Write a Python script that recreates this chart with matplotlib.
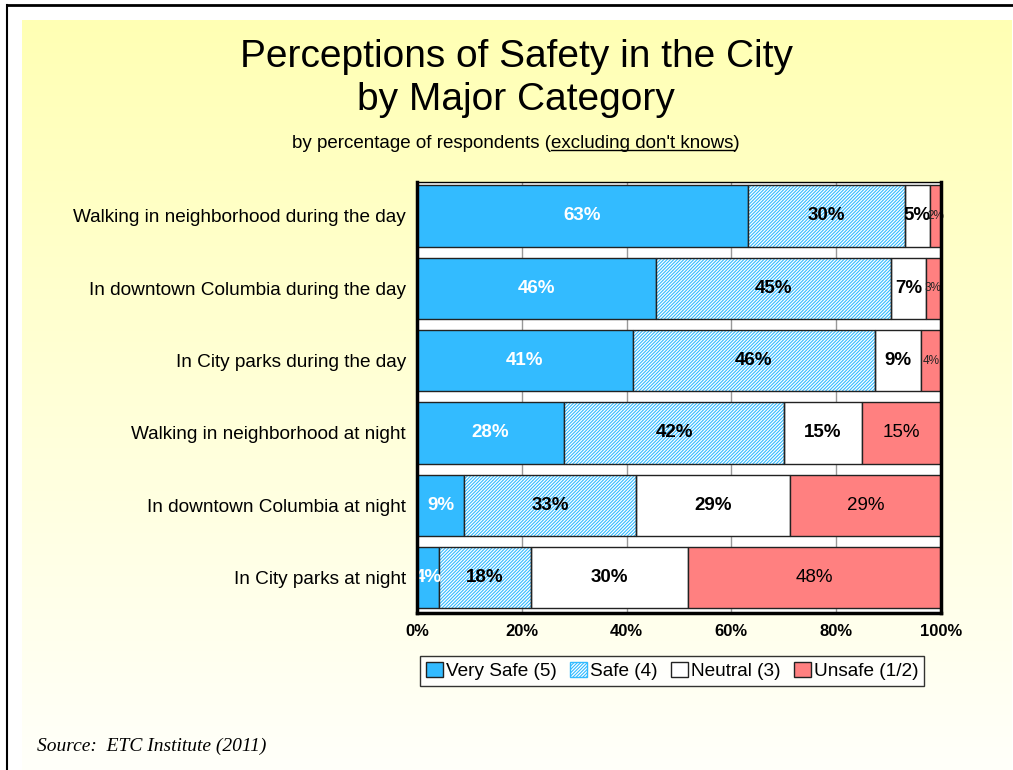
import numpy as np
import matplotlib
matplotlib.use("Agg")
import matplotlib.pyplot as plt
from matplotlib.lines import Line2D
from matplotlib.patches import Patch

plt.rcParams['font.family'] = ['Liberation Sans', 'DejaVu Sans']
plt.rcParams['hatch.linewidth'] = 0.8

# ---- data ----
categories = [
    "Walking in neighborhood during the day",
    "In downtown Columbia during the day",
    "In City parks during the day",
    "Walking in neighborhood at night",
    "In downtown Columbia at night",
    "In City parks at night",
]
very_safe = [63.2, 45.6, 41.2, 28.1, 9.0, 4.2]
safe = [29.9, 44.9, 46.2, 41.9, 32.8, 17.6]
neutral = [4.8, 6.6, 8.8, 14.9, 29.4, 29.9]
unsafe = [2.1, 2.9, 3.8, 15.1, 28.8, 48.3]
vs_labels = ["63%", "46%", "41%", "28%", "9%", "4%"]
safe_labels = ["30%", "45%", "46%", "42%", "33%", "18%"]
neutral_labels = ["5%", "7%", "9%", "15%", "29%", "30%"]
unsafe_labels = ["2%", "3%", "4%", "15%", "29%", "48%"]
series_names = ["Very Safe (5)", "Safe (4)", "Neutral (3)", "Unsafe (1/2)"]
xticks = [0, 20, 40, 60, 80, 100]
xtick_labels = ["0%", "20%", "40%", "60%", "80%", "100%"]

C_VS = "#33BBFF"
C_UN = "#FF8080"
EDGE = "#222222"
HATCH = "/" * 10

W, H = 1013, 770
fig = plt.figure(figsize=(W / 100, H / 100), dpi=100)
fig.patch.set_facecolor("white")

# gradient background
bg = fig.add_axes([22 / W, 0, (1011 - 22) / W, (H - 20) / H], zorder=-10)
grad = np.linspace(0, 1, 256)[:, None]
top = np.array([255, 255, 180]) / 255
bot = np.array([255, 255, 250]) / 255
img = top[None, None, :] * (1 - grad[:, :, None]) + bot[None, None, :] * grad[:, :, None]
bg.imshow(img, aspect="auto", extent=[0, 1, 0, 1])
bg.set_axis_off()

# page border lines
fig.add_artist(Line2D([7 / W, 1], [1 - 5 / H, 1 - 5 / H], color="black", lw=2, transform=fig.transFigure))
fig.add_artist(Line2D([7 / W, 7 / W], [0, 1 - 5 / H], color="black", lw=1.5, transform=fig.transFigure))

ax = fig.add_axes([417 / W, 1 - 613 / H, (941 - 417) / W, (613 - 182) / H])
ax.set_facecolor("white")
y = np.arange(len(categories))
h = 0.85

vs = np.array(very_safe)
sf = np.array(safe)
nt = np.array(neutral)
un = np.array(unsafe)

ax.barh(y, vs, height=h, color=C_VS, edgecolor=EDGE, lw=1, zorder=3)
ax.barh(y, sf, left=vs, height=h, color="white", edgecolor=C_VS, hatch=HATCH, lw=0, zorder=3)
ax.barh(y, sf, left=vs, height=h, color="none", edgecolor=EDGE, lw=1, zorder=4)
ax.barh(y, nt, left=vs + sf, height=h, color="white", edgecolor=EDGE, lw=1, zorder=3)
ax.barh(y, un, left=vs + sf + nt, height=h, color=C_UN, edgecolor=EDGE, lw=1, zorder=3)

for i in range(len(categories)):
    ax.text(vs[i] / 2, y[i], vs_labels[i], ha="center", va="center", color="white",
            fontsize=13.5, fontweight="bold", zorder=6, clip_on=False)
    ax.text(vs[i] + sf[i] / 2, y[i], safe_labels[i], ha="center", va="center", color="black",
            fontsize=13.5, fontweight="bold", zorder=6)
    ax.text(vs[i] + sf[i] + nt[i] / 2, y[i], neutral_labels[i], ha="center", va="center",
            color="black", fontsize=13.5, fontweight="bold", zorder=6)
    small = un[i] < 6
    ax.text(vs[i] + sf[i] + nt[i] + un[i] / 2, y[i], unsafe_labels[i], ha="center", va="center",
            color="#222222" if small else "black", fontsize=8.5 if small else 13.5, zorder=6, clip_on=False)

ax.set_xlim(0, 100)
ax.set_ylim(5.49, -0.47)
ax.set_xticks(xticks)
ax.set_xticklabels(xtick_labels, fontweight="bold", fontsize=12)
ax.set_yticks(y)
ax.set_yticklabels(categories, fontsize=13.7)
ax.tick_params(axis="y", length=0, pad=8)
ax.tick_params(axis="x", length=0, pad=8)
ax.grid(axis="x", color="#999999", lw=1, zorder=0)
for s in ["left", "right", "bottom"]:
    ax.spines[s].set_linewidth(2.5)
    ax.spines[s].set_color("black")
ax.spines["top"].set_linewidth(1)
for s in ax.spines.values():
    s.set_zorder(7)

# legend
handles = [
    Patch(facecolor=C_VS, edgecolor=EDGE),
    Patch(facecolor="white", edgecolor=C_VS, hatch=HATCH, lw=1),
    Patch(facecolor="white", edgecolor=EDGE),
    Patch(facecolor=C_UN, edgecolor=EDGE),
]
leg = fig.legend(handles, series_names, loc="center", bbox_to_anchor=(672 / W, 1 - 671 / H),
                 ncol=4, fontsize=13.7, frameon=True, fancybox=False, edgecolor="black",
                 handlelength=0.9, handleheight=0.8, handletextpad=0.15, columnspacing=0.7,
                 borderpad=0.3, borderaxespad=0)
leg.get_frame().set_linewidth(1)
leg.get_frame().set_facecolor("white")

# titles
cx = 516 / W
fig.text(cx, 1 - 57 / H, "Perceptions of Safety in the City", ha="center", va="center", fontsize=28)
fig.text(cx, 1 - 100 / H, "by Major Category", ha="center", va="center", fontsize=28)
sub = fig.text(cx, 1 - 143 / H, "by percentage of respondents (excluding don't knows)",
               ha="center", va="center", fontsize=13.5)

# underline for part of subtitle
fig.canvas.draw()
r = fig.canvas.get_renderer()
bb = sub.get_window_extent(r)
pre = fig.text(0, 0, "by percentage of respondents (", fontsize=13.5)
part = fig.text(0, 0, "excluding don't knows", fontsize=13.5)
w_pre = pre.get_window_extent(r).width
w_part = part.get_window_extent(r).width
pre.remove()
part.remove()
x0 = bb.x0 + w_pre
x1 = x0 + w_part
yl = bb.y0 + 2
fig.add_artist(Line2D([x0 / W, x1 / W], [yl / H, yl / H], color="black", lw=1, transform=fig.transFigure))

fig.text(37 / W, 1 - 746 / H, "Source:  ETC Institute (2011)", ha="left", va="center",
         fontsize=14, family="Liberation Serif", style="italic")

fig.savefig("out.png", dpi=100)
